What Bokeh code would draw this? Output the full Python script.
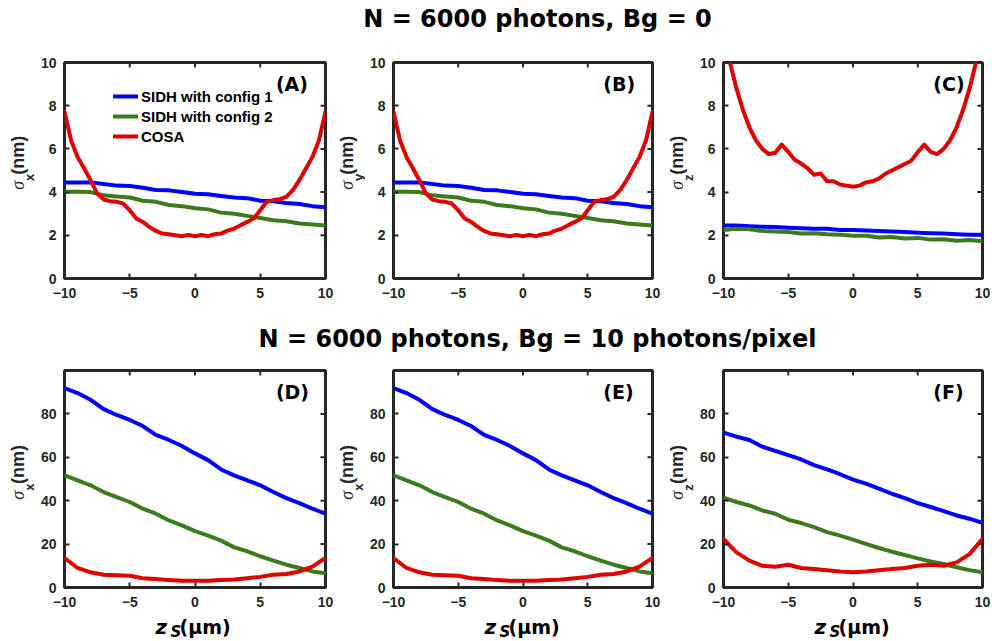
import numpy as np
from bokeh.plotting import figure
from bokeh.models import Range1d, FixedTicker, Label, Legend, LegendItem
from bokeh.layouts import column, row
from bokeh.embed import file_html
from bokeh.resources import INLINE

# ---------------- data ----------------
z_fine = [-10.0, -9.5, -9.0, -8.5, -8.0, -7.5, -7.0, -6.5, -6.0, -5.5, -5.0, -4.5, -4.0, -3.5,
          -3.0, -2.5, -2.0, -1.5, -1.0, -0.5, 0.0, 0.5, 1.0, 1.5, 2.0, 2.5, 3.0, 3.5, 4.0, 4.5,
          5.0, 5.5, 6.0, 6.5, 7.0, 7.5, 8.0, 8.5, 9.0, 9.5, 10.0]
z_coarse = [-10, -9, -8, -7, -6, -5, -4, -3, -2, -1, 0, 1, 2, 3, 4, 5, 6, 7, 8, 9, 10]

# N = 6000, Bg = 0  (sigma_x and sigma_y are the same)
sidh1_xy_bg0 = [4.45, 4.45, 4.45, 4.38, 4.30, 4.28, 4.20, 4.10, 4.08, 4.00, 3.92, 3.90, 3.82,
                3.75, 3.72, 3.60, 3.58, 3.50, 3.45, 3.35, 3.30]
sidh2_xy_bg0 = [4.02, 4.02, 4.00, 3.85, 3.80, 3.75, 3.60, 3.55, 3.40, 3.35, 3.25, 3.20, 3.05,
                3.00, 2.90, 2.80, 2.70, 2.65, 2.55, 2.50, 2.45]
cosa_xy_bg0 = [7.72, 6.40, 5.63, 5.10, 4.55, 3.94, 3.66, 3.58, 3.55, 3.47, 3.16, 2.78, 2.62, 2.39,
               2.20, 2.08, 2.05, 2.00, 1.96, 2.02, 1.96, 2.02, 1.96, 2.05, 2.08, 2.22, 2.31, 2.47,
               2.62, 2.78, 3.16, 3.55, 3.63, 3.67, 3.78, 4.09, 4.55, 5.09, 5.63, 6.40, 7.72]
sidh1_z_bg0 = [2.45, 2.45, 2.42, 2.40, 2.38, 2.35, 2.33, 2.30, 2.30, 2.25, 2.25, 2.22, 2.20,
               2.18, 2.15, 2.12, 2.10, 2.08, 2.05, 2.03, 2.02]
sidh2_z_bg0 = [2.25, 2.30, 2.28, 2.20, 2.18, 2.15, 2.08, 2.10, 2.05, 2.02, 1.98, 1.98, 1.90,
               1.92, 1.85, 1.88, 1.80, 1.82, 1.75, 1.78, 1.72]
cosa_z_bg0 = [11.5, 10.0, 8.8, 7.8, 7.0, 6.4, 6.0, 5.76, 5.82, 6.2, 5.86, 5.5, 5.32, 5.1, 4.8,
              4.86, 4.5, 4.5, 4.35, 4.3, 4.25, 4.3, 4.45, 4.5, 4.62, 4.85, 5.0, 5.15, 5.3, 5.45,
              5.85, 6.2, 5.86, 5.76, 6.0, 6.4, 7.0, 7.8, 8.8, 10.0, 11.5]

# N = 6000, Bg = 10 photons/pixel
sidh1_xy_bg10 = [91.9, 89.6, 86.5, 82.2, 79.5, 77.2, 74.4, 70.3, 68.0, 65.2, 61.8, 58.7, 54.4,
                 51.7, 49.4, 47.1, 44.0, 41.2, 38.9, 36.3, 34.0]
sidh2_xy_bg10 = [51.7, 49.4, 47.1, 44.0, 41.7, 39.4, 36.3, 34.0, 30.9, 28.6, 26.0, 23.9, 21.6,
                 18.5, 16.7, 14.4, 12.4, 10.5, 9.0, 7.4, 6.6]
cosa_xy_bg10 = [13.6, 9.0, 7.0, 5.9, 5.7, 5.4, 4.3, 3.9, 3.4, 3.1, 3.1, 3.1, 3.4, 3.7, 4.3,
                4.9, 5.9, 6.2, 7.4, 9.6, 13.6]
sidh1_z_bg10 = [71.4, 69.5, 68.0, 64.9, 63.0, 61.0, 59.0, 56.4, 54.4, 52.2, 49.7, 47.9, 45.6,
                43.2, 41.2, 38.9, 37.1, 35.2, 33.2, 31.7, 29.8]
sidh2_z_bg10 = [41.4, 39.4, 37.8, 35.5, 34.0, 31.2, 29.7, 27.8, 25.5, 23.9, 22.1, 20.1, 18.2,
                16.5, 15.0, 13.4, 12.0, 10.8, 9.3, 8.0, 7.0]
cosa_z_bg10 = [22.4, 16.2, 12.4, 10.0, 9.6, 10.5, 9.0, 8.5, 8.0, 7.4, 7.0, 7.4, 8.0, 8.5, 9.0,
               10.0, 10.5, 10.0, 11.6, 15.4, 22.4]

x_ticks = [-10, -5, 0, 5, 10]
y_ticks_bg0 = [0, 2, 4, 6, 8, 10]
y_ticks_bg10 = [0, 20, 40, 60, 80]
legend_labels = ["SIDH with config 1", "SIDH with config 2", "COSA"]
titles = ["N = 6000 photons, Bg = 0", "N = 6000 photons, Bg = 10 photons/pixel"]

# ---------------- style ----------------
BLUE, GREEN, RED = "#0000FF", "#3C7A1E", "#E00000"
DARK = "#262626"
TICK_FONT = "Liberation Sans"
TICK_LEN = 5


def blank_fig(w, h):
    f = figure(width=w, height=h, x_range=Range1d(0, w), y_range=Range1d(0, h), title=None,
               x_axis_location=None, y_axis_location=None, min_border=0,
               output_backend="svg", toolbar_location=None, tools="")
    f.outline_line_color = None
    f.grid.visible = False
    f.background_fill_color = "white"
    f.border_fill_color = "white"
    return f


def style_axis(ax, ticks, standoff):
    ax.ticker = FixedTicker(ticks=ticks)
    ax.axis_line_color = None
    ax.major_tick_in = TICK_LEN
    ax.major_tick_out = 0
    ax.major_tick_line_color = DARK
    ax.major_tick_line_width = 2
    ax.minor_tick_line_color = None
    ax.major_label_text_font = TICK_FONT
    ax.major_label_text_font_style = "bold"
    ax.major_label_text_color = DARK
    ax.major_label_text_font_size = "14px"
    ax.major_label_standoff = standoff


def make_panel(width, bl, br, height, bt, bb, fw, ymax, yticks, series, zs, tag):
    fh = height - bt - bb
    p = figure(width=width, height=height, min_border_left=bl, min_border_right=br,
               min_border_top=bt, min_border_bottom=bb, title=None,
               x_range=Range1d(-10, 10), y_range=Range1d(0, ymax),
               output_backend="svg", toolbar_location=None, tools="")
    p.grid.visible = False
    p.outline_line_color = DARK
    p.outline_line_width = 3
    p.background_fill_color = "white"
    p.border_fill_color = "white"
    style_axis(p.xaxis[0], x_ticks, 9)
    style_axis(p.yaxis[0], yticks, 8)

    # inward ticks on the top and right edges (same tick positions as the axes)
    dy = TICK_LEN * ymax / fh
    dx = TICK_LEN * 20.0 / fw
    p.segment(x0=x_ticks, y0=[ymax] * len(x_ticks), x1=x_ticks, y1=[ymax - dy] * len(x_ticks),
              line_color=DARK, line_width=2)
    p.segment(x0=[10] * len(yticks), y0=yticks, x1=[10 - dx] * len(yticks), y1=yticks,
              line_color=DARK, line_width=2)

    rends = []
    for (vals, color), zz in zip(series, zs):
        r = p.line(zz, vals, line_color=color, line_width=4, line_join="round", line_cap="round")
        rends.append(r)

    p.add_layout(Label(x=6.2, y=fh - 10, x_units="data", y_units="screen", text=tag,
                       text_align="left", text_baseline="top", text_font="DejaVu Sans",
                       text_font_style="bold", text_font_size="19px", text_color="black"))
    return p, rends


def ylabel_fig(w, h, base_x, yc, sub):
    # base_x is the screen position of the text baseline (rotated text);
    # text is anchored on its em-box middle, which lies 0.35 em above the baseline
    f = blank_fig(w, h)
    f.add_layout(Label(x=base_x - 6, y=yc - 30, text="σ", angle=np.pi / 2, text_align="left",
                       text_baseline="middle", text_font="Liberation Serif",
                       text_font_style="italic", text_font_size="18px", text_color=DARK))
    f.add_layout(Label(x=base_x + 10 - 4.5, y=yc - 19, text=sub, angle=np.pi / 2,
                       text_align="left", text_baseline="middle", text_font="Liberation Sans",
                       text_font_style="bold", text_font_size="13px", text_color=DARK))
    f.add_layout(Label(x=base_x - 6, y=yc - 11, text="(nm)", angle=np.pi / 2, text_align="left",
                       text_baseline="middle", text_font="Liberation Sans",
                       text_font_style="bold", text_font_size="18px", text_color=DARK))
    return f


def make_title(text, h, base):
    t = blank_fig(991, h)
    t.add_layout(Label(x=537, y=base + 8.3, text=text, text_align="center",
                       text_baseline="middle", text_font="DejaVu Sans", text_font_style="bold",
                       text_font_size="24px", text_color="black"))
    return t


# column geometry: (label fig width, label baseline x, main width, left border, right border, frame width)
cols = [(36, 23, 300, 28, 11, 261), (29, 16, 300, 28, 13, 259), (30, 17, 296, 28, 9, 259)]
frame_lefts = [64, 393, 723]

# ---------------- row 1 ----------------
H1, BT1, BB1 = 275, 24, 35
FH1 = H1 - BT1 - BB1
top_sets = [
    ([(sidh1_xy_bg0, BLUE), (sidh2_xy_bg0, GREEN), (cosa_xy_bg0, RED)], "x", "(A)"),
    ([(sidh1_xy_bg0, BLUE), (sidh2_xy_bg0, GREEN), (cosa_xy_bg0, RED)], "y", "(B)"),
    ([(sidh1_z_bg0, BLUE), (sidh2_z_bg0, GREEN), (cosa_z_bg0, RED)], "z", "(C)"),
]
row1_items = []
first = None
for (lw, lx, w, bl, br, fw), (series, sub, tag) in zip(cols, top_sets):
    p, rends = make_panel(w, bl, br, H1, BT1, BB1, fw, 10, y_ticks_bg0, series,
                          [z_coarse, z_coarse, z_fine], tag)
    if first is None:
        first = (p, rends)
    row1_items += [ylabel_fig(lw, H1, lx, BB1 + FH1 / 2, sub), p]

pA, rA = first
legend = Legend(items=[LegendItem(label=lab, renderers=[r]) for lab, r in zip(legend_labels, rA)],
                location=(49, 132), orientation="vertical", glyph_width=25, glyph_height=20,
                label_height=20, label_standoff=3, spacing=0, padding=0, margin=0,
                background_fill_alpha=0, border_line_alpha=0,
                label_text_font="Liberation Sans", label_text_font_style="bold",
                label_text_font_size="15px", label_text_color="black")
pA.add_layout(legend)

# ---------------- row 2 ----------------
H2, BT2, BB2 = 261, 17, 27
FH2 = H2 - BT2 - BB2
bot_sets = [
    ([(sidh1_xy_bg10, BLUE), (sidh2_xy_bg10, GREEN), (cosa_xy_bg10, RED)], "x", "(D)"),
    ([(sidh1_xy_bg10, BLUE), (sidh2_xy_bg10, GREEN), (cosa_xy_bg10, RED)], "x", "(E)"),
    ([(sidh1_z_bg10, BLUE), (sidh2_z_bg10, GREEN), (cosa_z_bg10, RED)], "z", "(F)"),
]
row2_items = []
for (lw, lx, w, bl, br, fw), (series, sub, tag) in zip(cols, bot_sets):
    p, _ = make_panel(w, bl, br, H2, BT2, BB2, fw, 100, y_ticks_bg10, series,
                      [z_coarse, z_coarse, z_coarse], tag)
    row2_items += [ylabel_fig(lw, H2, lx, BB2 + FH2 / 2, sub), p]

# ---------------- x labels under the bottom row ----------------
XH = 26
xl = blank_fig(991, XH)
for fl in frame_lefts:
    xl.add_layout(Label(x=fl + 91, y=7 + 6.9, text="z", text_align="left", text_baseline="middle",
                        text_font="DejaVu Sans", text_font_style="bold italic",
                        text_font_size="20px", text_color="black"))
    xl.add_layout(Label(x=fl + 106, y=3 + 5.2, text="S", text_align="left",
                        text_baseline="middle", text_font="DejaVu Sans",
                        text_font_style="bold italic", text_font_size="15px",
                        text_color="black"))
    xl.add_layout(Label(x=fl + 115, y=7 + 6.6, text="(μm)", text_align="left",
                        text_baseline="middle", text_font="DejaVu Sans",
                        text_font_style="bold", text_font_size="19px", text_color="black"))

t1 = make_title(titles[0], 38, 11)
t2 = make_title(titles[1], 40, 6)

layout = column(t1, row(*row1_items), t2, row(*row2_items), xl, spacing=0)
open("out.html", "w").write(file_html(layout, INLINE))
